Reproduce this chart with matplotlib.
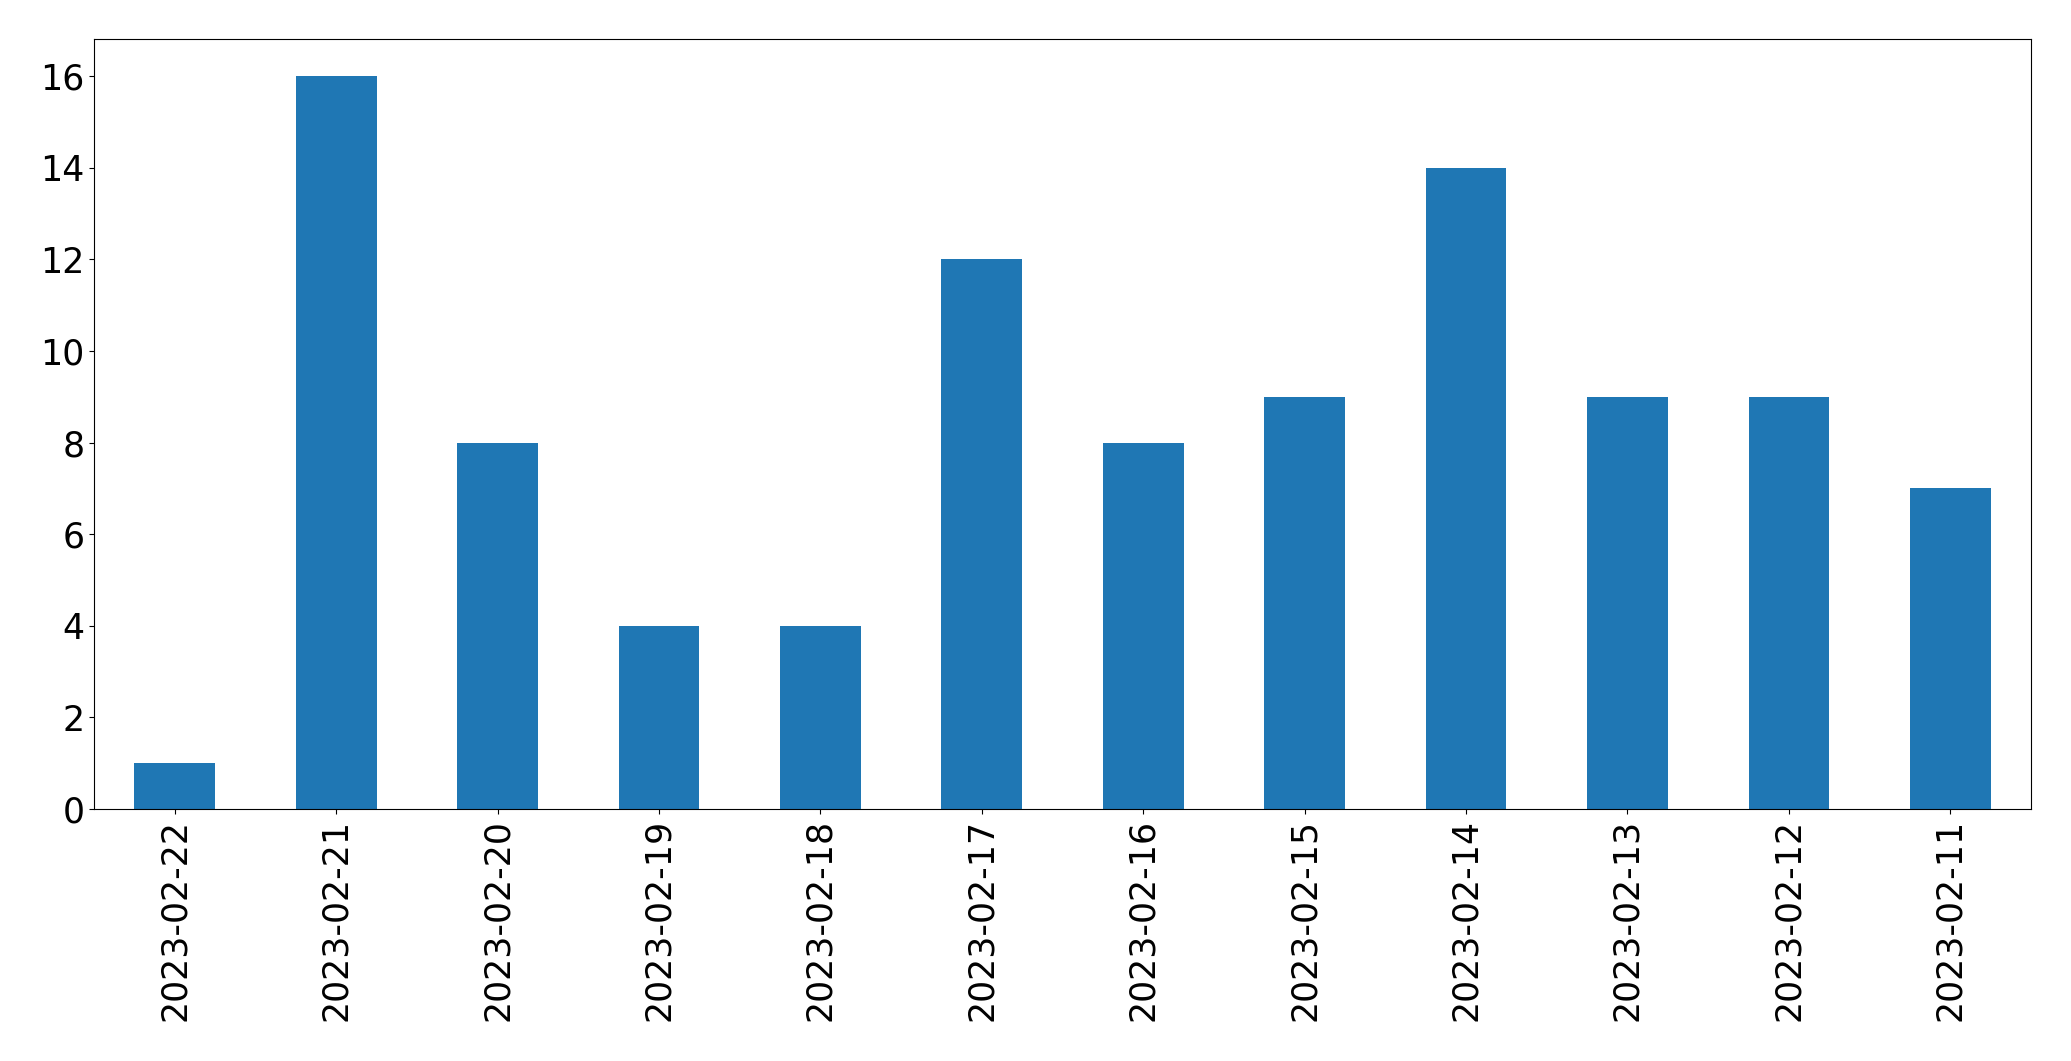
import matplotlib
matplotlib.use("Agg")
import matplotlib.pyplot as plt
import numpy as np

dates = ["2023-02-22", "2023-02-21", "2023-02-20", "2023-02-19", "2023-02-18", "2023-02-17",
         "2023-02-16", "2023-02-15", "2023-02-14", "2023-02-13", "2023-02-12", "2023-02-11"]
counts = [1, 16, 8, 4, 4, 12, 8, 9, 14, 9, 9, 7]

fig = plt.figure(figsize=(20.71, 10.61), dpi=100)
ax = fig.add_axes([0.0454, 0.2375, 0.9353, 0.7253])
x = np.arange(len(dates))
ax.bar(x, counts, width=0.5, color="#1f77b4")
ax.set_xlim(-0.5, len(dates) - 0.5)
ax.set_ylim(0, 16.8)
ax.set_xticks(x)
ax.set_xticklabels(dates, rotation=90)
ax.set_yticks(range(0, 17, 2))
ax.tick_params(labelsize=25)
fig.savefig("out.png", dpi=100)
